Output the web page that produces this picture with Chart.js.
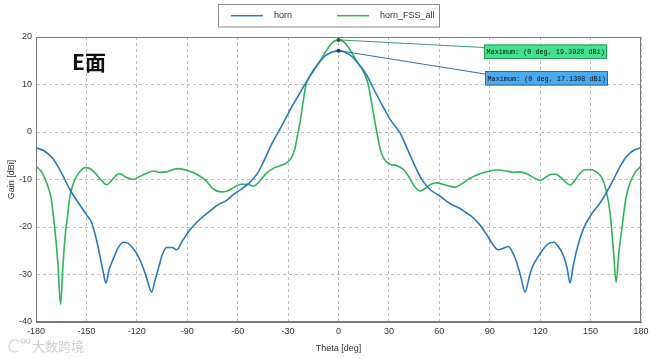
<!DOCTYPE html>
<html><head><meta charset="utf-8">
<script src="https://cdn.jsdelivr.net/npm/chart.js@4"></script>
<style>html,body{margin:0;padding:0;background:#fff;}canvas{display:block;}</style>
</head><body>
<canvas id="c" width="662" height="359"></canvas>
<script>
const seriesNames = ['horn', 'horn_FSS_all'];
const panelLabel = 'E面';
const xTitle = 'Theta [deg]';
const yTitle = 'Gain [dBi]';
const watermark = '大数跨境';
const xRange = [-180, 180];
const xStep = 30;
const yRange = [-40, 20];
const yStep = 10;

const thetaHorn = [-180,-175,-170,-165,-160,-155,-150,-147,-144.5,-142,-140,-138.4,-136.5,-134,-131,-128,-125,-122,-119,-116,-113.5,-111.2,-109,-107,-105,-102.3,-99,-96.3,-93,-88.4,-84,-80,-76,-72,-67,-62.6,-57,-52.7,-48,-44,-40,-35,-30.8,-27,-23,-19,-15,-12,-8,-4,0,4,8,12,16.8,21,26.7,31,36.6,41,46.5,50.5,54.5,60.4,64.4,67,72.3,76,80,84,88,92,95,98,101,103.5,106,108.5,111,113.5,115.5,118,122,125,128,131,133.8,136,137.8,139.5,142,145.7,150,155.7,160,163.6,167.5,171.5,175.5,180];
const gainHorn = [-3.3,-4.0,-5.6,-8.5,-12.0,-14.8,-17.4,-19.0,-22.0,-26.0,-29.5,-31.8,-29.0,-26.7,-24.3,-23.2,-23.5,-24.6,-26.3,-28.8,-31.5,-33.7,-31.0,-28.5,-26.0,-24.3,-24.3,-24.8,-23.0,-20.6,-18.9,-17.6,-16.5,-15.4,-14.5,-13.2,-11.8,-10.6,-8.6,-5.8,-2.7,0.5,3.3,5.8,8.2,10.6,12.8,14.4,16.0,16.8,17.1308,16.8,15.9,14.3,12.0,9.0,5.2,2.5,-0.2,-3.6,-7.9,-10.5,-12.1,-13.5,-14.6,-15.2,-16.1,-17.0,-18.0,-19.5,-21.5,-23.8,-24.8,-24.5,-24.1,-25.3,-27.4,-30.5,-33.7,-30.5,-28.3,-26.7,-24.6,-23.5,-23.2,-24.2,-26.0,-28.6,-31.8,-28.5,-24.5,-20.4,-17.6,-14.9,-12.4,-10.0,-7.3,-5.1,-3.9,-3.3];

const thetaFss = [-180,-176.5,-173.7,-171,-168.8,-167,-165.4,-164,-162.8,-161,-159.8,-157.5,-155.8,-153,-150.9,-148,-144.9,-141,-138,-135,-132,-130,-126,-122,-118,-114,-110.2,-106,-102.3,-98.5,-95.4,-90,-84.4,-79,-74.5,-70,-66,-62,-58,-54,-50.7,-46.5,-42.7,-38,-34,-30.8,-28,-26,-24.5,-23,-21,-19.3,-17,-15,-12,-9,-6,-3,0,3,6,9,12,15,17.7,19.5,21,22.5,24.7,27,30.7,34,38.6,42,45.5,48.5,51.5,55,58.5,62,66,69.3,73,78,84.2,89,94.2,100,104,108,112,116,119.9,123.5,126.5,129,132,135,137.8,140,143,146,149.7,153,156.7,159,161.6,163.5,165.2,166.8,168.6,171,173.5,176.5,180];
const gainFss = [-7.2,-8.5,-10.7,-14.0,-20.4,-27.5,-36.3,-28.5,-22.5,-17.0,-13.5,-10.6,-9.3,-8.0,-7.5,-7.7,-8.6,-10.2,-11.1,-10.2,-9.0,-8.8,-9.6,-10.0,-9.3,-8.7,-8.2,-8.5,-8.4,-7.9,-7.7,-8.1,-8.9,-10.2,-12.0,-12.6,-12.4,-11.6,-11.0,-11.0,-11.4,-10.2,-8.6,-7.5,-7.0,-6.5,-5.4,-3.6,-0.9,1.8,6.5,10.0,11.8,13.0,14.4,16.1,17.8,19.0,19.3928,19.0,17.8,16.0,14.3,12.6,10.0,6.5,3.5,0.5,-3.4,-5.6,-6.8,-7.0,-7.9,-9.5,-11.6,-12.4,-11.9,-11.0,-10.7,-11.0,-11.4,-11.6,-11.0,-9.8,-8.8,-8.3,-8.0,-8.2,-8.5,-8.4,-8.8,-9.6,-10.2,-9.5,-8.9,-8.9,-9.5,-10.5,-11.2,-10.5,-9.0,-8.0,-7.9,-8.3,-9.6,-12.0,-17.0,-24.5,-31.6,-25.5,-20.4,-14.0,-10.7,-8.5,-7.2];

const lineColors = ['#2a78c0', '#2fb35c'];
const peakColors = ['#1c3d6e', '#1d5a32'];
const boxFill = ['#4aaaf0', '#42e28e'];
const boxStroke = ['#2d6aa8', '#2e9a5c'];
const leaderColor = ['#3a6f9e', '#3d9a6a'];

function pts(t, g) { return t.map((v, i) => ({x: v, y: g[i]})); }
function peakIndex(g) { let m = 0; g.forEach((v, i) => { if (v > g[m]) m = i; }); return m; }

const FONT = "'Liberation Sans', Arial, sans-serif";

const deco = {
  id: 'deco',
  beforeDraw(chart) {
    const ctx = chart.ctx;
    ctx.save(); ctx.fillStyle = '#fff'; ctx.fillRect(0, 0, chart.width, chart.height); ctx.restore();
  },
  afterDraw(chart) {
    const {ctx, chartArea: a, scales: {x, y}} = chart;
    ctx.save();
    // plot frame
    ctx.strokeStyle = '#7a7a7a'; ctx.lineWidth = 1;
    ctx.strokeRect(Math.round(a.left) + 0.5, Math.round(a.top) + 0.5, Math.round(a.right - a.left) - 1, Math.round(a.bottom - a.top) - 1);

    // panel label
    ctx.fillStyle = '#111';
    ctx.font = "bold 21px 'Noto Sans CJK SC', sans-serif";
    ctx.textBaseline = 'alphabetic'; ctx.textAlign = 'left';
    ctx.fillText(panelLabel, 72, 70);

    // peak annotations
    const boxes = [{x: 485, y: 71, w: 123, h: 14.5}, {x: 484, y: 44.5, w: 123, h: 14.5}];
    chart.data.datasets.forEach((ds, di) => {
      const g = di === 0 ? gainHorn : gainFss;
      const t = di === 0 ? thetaHorn : thetaFss;
      const k = peakIndex(g);
      const px = x.getPixelForValue(t[k]), py = y.getPixelForValue(g[k]);
      const b = boxes[di];
      ctx.strokeStyle = leaderColor[di]; ctx.lineWidth = 1;
      ctx.beginPath(); ctx.moveTo(px, py); ctx.lineTo(b.x, b.y + 3); ctx.stroke();
      ctx.fillStyle = boxFill[di]; ctx.fillRect(b.x, b.y, b.w, b.h);
      ctx.strokeStyle = boxStroke[di]; ctx.strokeRect(b.x + 0.5, b.y + 0.5, b.w - 1, b.h - 1);
      ctx.fillStyle = '#111';
      ctx.font = "6.8px 'Liberation Mono', monospace";
      ctx.textBaseline = 'middle'; ctx.textAlign = 'left';
      ctx.fillText('Maximum: (' + t[k] + ' deg, ' + g[k].toFixed(4) + ' dBi)', b.x + 2.5, b.y + b.h / 2 + 0.5);
      // peak marker
      ctx.fillStyle = peakColors[di];
      ctx.beginPath(); ctx.arc(px, py, 2, 0, Math.PI * 2); ctx.fill();
    });

    // legend
    const L = {x: 218.5, y: 4.5, w: 221, h: 22.5};
    ctx.fillStyle = '#fff'; ctx.fillRect(L.x, L.y, L.w, L.h);
    ctx.strokeStyle = '#8a8a8a'; ctx.lineWidth = 1; ctx.strokeRect(L.x, L.y, L.w, L.h);
    const items = [{x0: 231, x1: 263, tx: 274}, {x0: 337, x1: 369, tx: 380}];
    ctx.font = '9px ' + FONT; ctx.textBaseline = 'middle'; ctx.textAlign = 'left';
    chart.data.datasets.forEach((ds, di) => {
      const it = items[di];
      ctx.strokeStyle = ds.borderColor; ctx.lineWidth = 1.5;
      ctx.beginPath(); ctx.moveTo(it.x0, 15.7); ctx.lineTo(it.x1, 15.7); ctx.stroke();
      ctx.fillStyle = '#333';
      ctx.fillText(ds.label, it.tx, 16);
    });

    // watermark
    ctx.fillStyle = '#cfcfcf';
    ctx.font = "13px 'Noto Sans CJK SC', sans-serif";
    ctx.textBaseline = 'middle';
    ctx.fillText(watermark, 32, 346);
    ctx.strokeStyle = '#d4d4d4'; ctx.lineWidth = 1.2;
    ctx.beginPath(); ctx.arc(15, 346, 6, Math.PI * 0.35, Math.PI * 1.75); ctx.stroke();
    ctx.beginPath(); ctx.arc(23, 341, 2, 0, Math.PI * 2); ctx.stroke();
    ctx.beginPath(); ctx.arc(28, 341, 2, 0, Math.PI * 2); ctx.stroke();
    ctx.restore();
  }
};

new Chart(document.getElementById('c'), {
  type: 'line',
  data: {
    datasets: [
      {label: seriesNames[0], data: pts(thetaHorn, gainHorn), borderColor: lineColors[0], borderWidth: 1.6, pointRadius: 0, cubicInterpolationMode: 'monotone', fill: false},
      {label: seriesNames[1], data: pts(thetaFss, gainFss), borderColor: lineColors[1], borderWidth: 1.6, pointRadius: 0, cubicInterpolationMode: 'monotone', fill: false}
    ]
  },
  options: {
    responsive: false,
    animation: false,
    events: [],
    layout: {padding: {left: 0, right: 21, top: 37, bottom: 0}},
    plugins: {legend: {display: false}, tooltip: {enabled: false}},
    scales: {
      x: {
        type: 'linear', min: xRange[0], max: xRange[1],
        afterFit: s => { s.height = 37; },
        ticks: {stepSize: xStep, padding: 4, color: '#333', font: {family: FONT, size: 9}, maxRotation: 0},
        grid: {color: '#bdbdbd', drawTicks: false, tickBorderDash: [3, 3]},
        border: {display: true, color: '#7a7a7a', dash: [3, 3]},
        title: {display: true, text: xTitle, color: '#333', font: {family: FONT, size: 9}, padding: {top: 0, bottom: 5}}
      },
      y: {
        min: yRange[0], max: yRange[1],
        afterFit: s => { s.width = 36; },
        ticks: {stepSize: yStep, padding: 4, color: '#333', font: {family: FONT, size: 9}},
        grid: {color: '#bdbdbd', drawTicks: false},
        border: {display: true, color: '#7a7a7a', dash: [3, 3]},
        title: {display: true, text: yTitle, color: '#333', font: {family: FONT, size: 9}, padding: {top: 6, bottom: 0}}
      }
    }
  },
  plugins: [deco]
});
</script>
</body></html>
